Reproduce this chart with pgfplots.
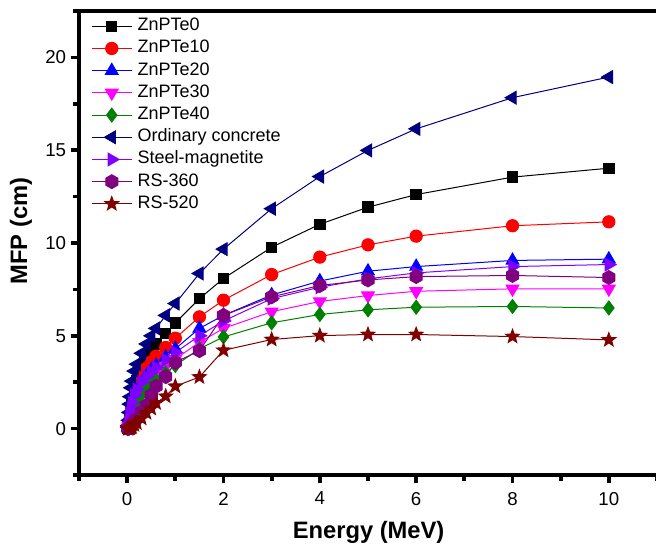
\documentclass[border=0pt]{standalone}
\usepackage{fontspec}
\setmainfont{Liberation Sans}
\usepackage{pgfplots}
\pgfplotsset{compat=1.18}
\definecolor{cNavy}{HTML}{000080}
\definecolor{cViolet}{HTML}{8000FF}
\definecolor{cPurple}{HTML}{800080}
\definecolor{cWine}{HTML}{800000}
\definecolor{cGreen}{HTML}{008000}
\definecolor{cMagenta}{HTML}{FF00FF}
\definecolor{cBlue}{HTML}{0000FF}
\definecolor{cRed}{HTML}{FF0000}

% filled hexagon and five-point star marks
\pgfdeclareplotmark{hexagon*}{%
  \pgfpathmoveto{\pgfpointpolar{90}{\pgfplotmarksize}}%
  \pgfpathlineto{\pgfpointpolar{150}{\pgfplotmarksize}}%
  \pgfpathlineto{\pgfpointpolar{210}{\pgfplotmarksize}}%
  \pgfpathlineto{\pgfpointpolar{270}{\pgfplotmarksize}}%
  \pgfpathlineto{\pgfpointpolar{330}{\pgfplotmarksize}}%
  \pgfpathlineto{\pgfpointpolar{30}{\pgfplotmarksize}}%
  \pgfpathclose\pgfusepathqfillstroke}
\pgfdeclareplotmark{star5*}{%
  \pgfpathmoveto{\pgfpointpolar{90}{\pgfplotmarksize}}%
  \pgfpathlineto{\pgfpointpolar{126}{0.42\pgfplotmarksize}}%
  \pgfpathlineto{\pgfpointpolar{162}{\pgfplotmarksize}}%
  \pgfpathlineto{\pgfpointpolar{198}{0.42\pgfplotmarksize}}%
  \pgfpathlineto{\pgfpointpolar{234}{\pgfplotmarksize}}%
  \pgfpathlineto{\pgfpointpolar{270}{0.42\pgfplotmarksize}}%
  \pgfpathlineto{\pgfpointpolar{306}{\pgfplotmarksize}}%
  \pgfpathlineto{\pgfpointpolar{342}{0.42\pgfplotmarksize}}%
  \pgfpathlineto{\pgfpointpolar{18}{\pgfplotmarksize}}%
  \pgfpathlineto{\pgfpointpolar{54}{0.42\pgfplotmarksize}}%
  \pgfpathclose\pgfusepathqfillstroke}

\begin{document}
\begin{tikzpicture}
\begin{axis}[name=ax,
  scale only axis, width=433.5pt, height=348pt,
  xmin=-1, xmax=11, ymin=-2.5, ymax=22.5,
  separate axis lines,
  axis x line=box, axis y line=left,
  y axis line style={-},
  axis line style={line width=3.4pt},
  xtick={0,2,...,10}, ytick={0,5,...,20},
  minor xtick={-1,1,...,11}, minor ytick={-2.5,2.5,...,22.5},
  xtick pos=left, ytick pos=left,
  tick align=outside,
  major tick length=6.2pt, minor tick length=4.4pt,
  every tick/.style={black, line width=2.8pt},
  /pgf/number format/assume math mode=true,
  ticklabel style={font=\fontsize{14}{14}\selectfont},
  xticklabel style={yshift=-3pt},
  xlabel={\textbf{Energy (MeV)}}, ylabel={\textbf{MFP (cm)}},
  label style={font=\fontsize{17.8}{17.8}\selectfont},
  xlabel style={at={(axis description cs:0.501,-0.123)}, anchor=center},
  ylabel style={at={(axis description cs:-0.1003,0.526)}, anchor=center},
  clip=false,
  every axis plot/.append style={line width=0.75pt},
  legend cell align=left,
  legend style={draw=none, fill=none, at={(axis description cs:0.0,1.0)}, anchor=north west,
    font=\fontsize{13.5}{13.5}\selectfont,
    nodes={text height=9.5pt, text depth=3pt, inner sep=1pt},
    row sep=2.15pt, xshift=6pt, yshift=-2pt},
  /tikz/every odd column/.append style={column sep=3pt},
  legend image code/.code={\draw[mark repeat=2, mark phase=2, #1] plot coordinates {(0pt,0pt) (15pt,0pt) (30pt,0pt)};},
]
\addplot[black, mark=square*, mark size=3.9pt] coordinates {
(0.015,0.04) (0.02,0.08) (0.03,0.2) (0.04,0.25) (0.05,0.4) (0.06,0.6) (0.08,1.0) (0.1,1.4)
(0.15,2.1) (0.2,2.6) (0.3,3.3) (0.4,3.8) (0.5,4.2) (0.6,4.55) (0.8,5.12) (1,5.7)
(1.5,7.0) (2,8.09) (3,9.77) (4,11.01) (5,11.93) (6,12.61) (8,13.55) (10,14.03)};
\addlegendentry{ZnPTe0}
\addplot[cRed, mark=*, mark size=4.6pt] coordinates {
(0.015,0.03) (0.02,0.07) (0.03,0.17) (0.04,0.22) (0.05,0.35) (0.06,0.5) (0.08,0.85) (0.1,1.15)
(0.15,1.75) (0.2,2.2) (0.3,2.8) (0.4,3.25) (0.5,3.6) (0.6,3.9) (0.8,4.37) (1,4.87)
(1.5,6.02) (2,6.92) (3,8.3) (4,9.24) (5,9.9) (6,10.37) (8,10.93) (10,11.14)};
\addlegendentry{ZnPTe10}
\addplot[cBlue, mark=triangle*, mark size=5.5pt] coordinates {
(0.015,0.03) (0.02,0.06) (0.03,0.15) (0.04,0.19) (0.05,0.3) (0.06,0.43) (0.08,0.72) (0.1,1.0)
(0.15,1.5) (0.2,1.9) (0.3,2.45) (0.4,2.85) (0.5,3.15) (0.6,3.4) (0.8,3.85) (1,4.3)
(1.5,5.4) (2,6.1) (3,7.2) (4,7.95) (5,8.48) (6,8.73) (8,9.06) (10,9.13)};
\addlegendentry{ZnPTe20}
\addplot[cMagenta, mark=triangle*, mark options={rotate=180}, mark size=5.5pt] coordinates {
(0.015,0.025) (0.02,0.05) (0.03,0.13) (0.04,0.16) (0.05,0.25) (0.06,0.36) (0.08,0.6) (0.1,0.85)
(0.15,1.28) (0.2,1.62) (0.3,2.1) (0.4,2.45) (0.5,2.72) (0.6,2.95) (0.8,3.35) (1,3.75)
(1.5,4.65) (2,5.4) (3,6.3) (4,6.85) (5,7.17) (6,7.4) (8,7.53) (10,7.53)};
\addlegendentry{ZnPTe30}
\addplot[cGreen, mark=diamond*, mark size=5.2pt] coordinates {
(0.015,0.02) (0.02,0.045) (0.03,0.11) (0.04,0.14) (0.05,0.22) (0.06,0.31) (0.08,0.52) (0.1,0.74)
(0.15,1.12) (0.2,1.42) (0.3,1.85) (0.4,2.18) (0.5,2.42) (0.6,2.62) (0.8,3.0) (1,3.4)
(1.5,4.3) (2,4.94) (3,5.7) (4,6.15) (5,6.4) (6,6.54) (8,6.58) (10,6.5)};
\addlegendentry{ZnPTe40}
\addplot[cNavy, mark=triangle*, mark options={rotate=90}, mark size=5.5pt] coordinates {
(0.015,0.07) (0.02,0.16) (0.03,0.45) (0.04,0.87) (0.05,1.32) (0.06,1.72) (0.08,2.2) (0.1,2.56)
(0.15,3.1) (0.2,3.47) (0.3,4.06) (0.4,4.56) (0.5,5.0) (0.6,5.4) (0.8,6.1) (1,6.74)
(1.5,8.36) (2,9.67) (3,11.85) (4,13.58) (5,14.99) (6,16.15) (8,17.83) (10,18.94)};
\addlegendentry{Ordinary concrete}
\addplot[cViolet, mark=triangle*, mark options={rotate=-90}, mark size=5.5pt] coordinates {
(0.015,0.03) (0.02,0.07) (0.03,0.2) (0.04,0.4) (0.05,0.6) (0.06,0.8) (0.08,1.1) (0.1,1.4)
(0.15,1.8) (0.2,2.1) (0.3,2.5) (0.4,2.8) (0.5,3.05) (0.6,3.3) (0.8,3.7) (1,4.1)
(1.5,5.0) (2,5.8) (3,7.0) (4,7.62) (5,8.07) (6,8.39) (8,8.73) (10,8.84)};
\addlegendentry{Steel-magnetite}
\addplot[cPurple, mark=hexagon*, mark size=5.2pt] coordinates {
(0.015,0.005) (0.02,0.01) (0.03,0.02) (0.04,0.03) (0.05,0.05) (0.06,0.08) (0.08,0.13) (0.1,0.2)
(0.15,0.38) (0.2,0.55) (0.3,0.9) (0.4,1.26) (0.5,1.8) (0.6,2.28) (0.8,2.8) (1,3.57)
(1.5,4.2) (2,6.1) (3,7.1) (4,7.71) (5,8.01) (6,8.19) (8,8.25) (10,8.14)};
\addlegendentry{RS-360}
\addplot[cWine, mark=star5*, mark size=5.4pt] coordinates {
(0.015,0.003) (0.02,0.005) (0.03,0.01) (0.04,0.02) (0.05,0.03) (0.06,0.04) (0.08,0.06) (0.1,0.09)
(0.15,0.2) (0.2,0.3) (0.3,0.55) (0.4,0.85) (0.5,1.08) (0.6,1.38) (0.8,1.74) (1,2.28)
(1.5,2.78) (2,4.22) (3,4.8) (4,5.01) (5,5.07) (6,5.07) (8,4.96) (10,4.78)};
\addlegendentry{RS-520}
\end{axis}
\pgfresetboundingbox
\path[use as bounding box] ([shift={(-59.25pt,-54pt)}]ax.south west) rectangle ([shift={(432.75pt,356.25pt)}]ax.south west);
\end{tikzpicture}
\end{document}
